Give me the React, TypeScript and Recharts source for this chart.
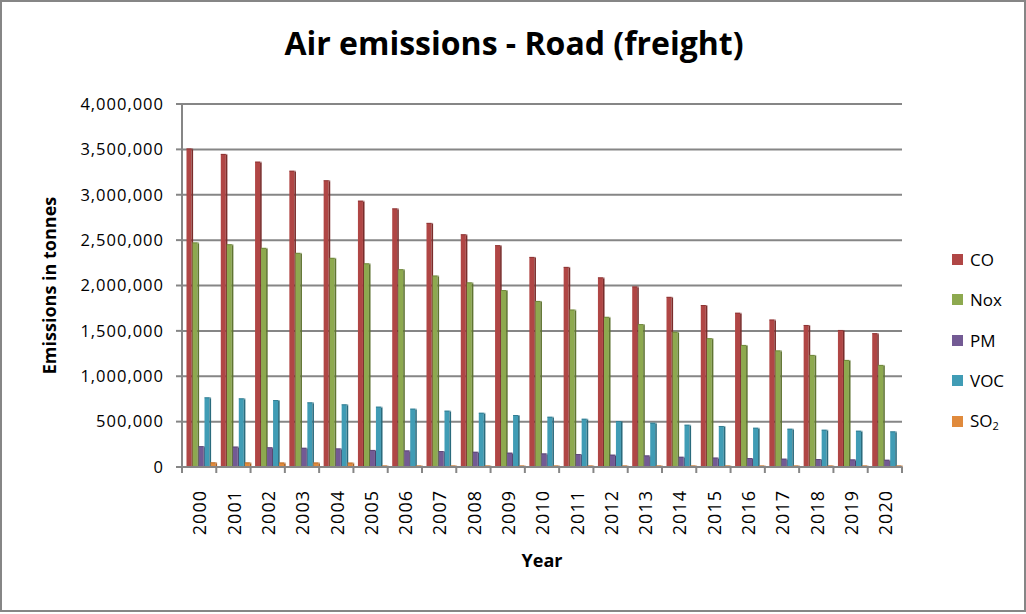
import { BarChart, Bar, XAxis, YAxis, CartesianGrid, Legend } from "recharts";

const years = ["2000", "2001", "2002", "2003", "2004", "2005", "2006", "2007", "2008", "2009", "2010",
    "2011", "2012", "2013", "2014", "2015", "2016", "2017", "2018", "2019", "2020"];

const co = [3510000, 3450000, 3365000, 3265000, 3160000, 2935000, 2850000, 2690000, 2565000, 2445000, 2315000,
    2205000, 2090000, 1990000, 1875000, 1785000, 1700000, 1625000, 1565000, 1510000, 1475000];
const nox = [2475000, 2455000, 2415000, 2360000, 2305000, 2245000, 2180000, 2110000, 2035000, 1950000, 1830000,
    1735000, 1655000, 1575000, 1490000, 1420000, 1345000, 1285000, 1235000, 1180000, 1125000];
const pm = [230000, 225000, 218000, 212000, 205000, 188000, 183000, 176000, 168000, 158000, 150000,
    143000, 136000, 128000, 113000, 104000, 99000, 92000, 88000, 84000, 80000];
const voc = [768000, 757000, 738000, 713000, 691000, 665000, 643000, 621000, 598000, 573000, 554000,
    532000, 507000, 488000, 466000, 452000, 433000, 422000, 411000, 400000, 393000];
const so2 = [52000, 51000, 50000, 50000, 49000, 4000, 4000, 4000, 4000, 3500, 3500,
    3000, 3000, 3000, 3000, 3000, 3000, 3000, 3000, 3000, 3000];

const yTicks = [0, 500000, 1000000, 1500000, 2000000, 2500000, 3000000, 3500000, 4000000];

const series = [
    { key: "co", name: "CO", fill: "#B04645", side: "#7A2C2B" },
    { key: "nox", name: "Nox", fill: "#8DA94F", side: "#5F7431" },
    { key: "pm", name: "PM", fill: "#735A94", side: "#4E3C66" },
    { key: "voc", name: "VOC", fill: "#409CB5", side: "#2A6B7D" },
    { key: "so2", name: "SO2", fill: "#E08A3C", side: "#A85F22" },
];

const data = years.map((year, i) => ({
    year,
    co: co[i],
    nox: nox[i],
    pm: pm[i],
    voc: voc[i],
    so2: so2[i],
}));

const FONT = "'Open Sans', sans-serif";
const AXIS_GRAY = "#868686";
const PLOT_BOTTOM = 467;
const BAND = 720 / years.length;

// bar with a darker right face, a cheap imitation of the 3D columns
function make3dBar(fill: string, side: string) {
    return (props: any) => {
        const { x, y, width, height } = props;
        if (width == null || height == null) return <g />;
        const h = Math.max(height, 1.5);
        const top = y + height - h;
        const x0 = x + 1.5;
        const face = Math.max(width - 1, 1);
        return (
            <g>
                <rect x={x0} y={top} width={face} height={h} fill={fill} />
                <rect x={x0 + face} y={top + 1} width={1.6} height={h - 1} fill={side} />
                <rect x={x0} y={top} width={face + 1.6} height={1} fill={side} opacity={0.6} />
            </g>
        );
    };
}

function YearTick(props: any) {
    const { x, payload, index } = props;
    const half = BAND / 2;
    return (
        <g>
            <line x1={x - half} x2={x - half} y1={PLOT_BOTTOM} y2={PLOT_BOTTOM + 6} stroke={AXIS_GRAY} strokeWidth={2} />
            {index === years.length - 1 && (
                <line x1={x + half} x2={x + half} y1={PLOT_BOTTOM} y2={PLOT_BOTTOM + 6} stroke={AXIS_GRAY} strokeWidth={2} />
            )}
            <text
                transform={`translate(${x + 1},${PLOT_BOTTOM + 23}) rotate(-90)`}
                textAnchor="end"
                dy="0.35em"
                fontSize={18}
                letterSpacing={1}
                fill="#000"
                fontFamily={FONT}
            >
                {payload.value}
            </text>
        </g>
    );
}

function LegendBox(props: any) {
    const order = series.map((s) => s.name);
    const items = [...(props.payload || [])].sort(
        (a: any, b: any) => order.indexOf(a.value) - order.indexOf(b.value)
    );
    // absolutely placed so the legend takes no room from the plot
    return (
        <div style={{ position: "absolute", left: 952, top: 239, fontFamily: FONT, fontSize: 17, whiteSpace: "nowrap" }}>
            {items.map((entry: any) => (
                <div key={entry.value} style={{ display: "flex", alignItems: "center", height: 40.5 }}>
                    <span style={{ width: 11, height: 11, background: entry.color, marginRight: 7 }} />
                    <span>
                        {entry.value === "SO2" ? (
                            <>SO<sub style={{ fontSize: 11, verticalAlign: "-3px" }}>2</sub></>
                        ) : (
                            entry.value
                        )}
                    </span>
                </div>
            ))}
        </div>
    );
}

export default function App() {
    return (
        <div
            style={{
                position: "fixed",
                left: 0,
                top: 0,
                width: 1022,
                height: 608,
                border: `2px solid ${AXIS_GRAY}`,
                background: "#fff",
                fontFamily: FONT,
            }}
        >
            <div
                style={{
                    position: "absolute",
                    left: 0,
                    width: 1024,
                    top: 19,
                    textAlign: "center",
                    fontSize: 32,
                    fontWeight: 700,
                    color: "#000",
                }}
            >
                Air emissions - Road (freight)
            </div>
            <div style={{ position: "absolute", left: -2, top: -2 }}>
                <BarChart
                    width={1026}
                    height={614}
                    data={data}
                    margin={{ top: 104, right: 124, left: 42, bottom: 67 }}
                    barCategoryGap={3}
                    barGap={0}
                >
                    <CartesianGrid vertical={false} stroke={AXIS_GRAY} strokeWidth={2} />
                    <XAxis
                        dataKey="year"
                        height={80}
                        interval={0}
                        axisLine={{ stroke: AXIS_GRAY, strokeWidth: 2 }}
                        tickLine={false}
                        tick={<YearTick />}
                        label={{
                            value: "Year",
                            position: "bottom",
                            offset: 7,
                            style: { fontFamily: FONT, fontSize: 18, fontWeight: 700, fill: "#000" },
                        }}
                    />
                    <YAxis
                        width={140}
                        domain={[0, 4000000]}
                        ticks={yTicks}
                        interval={0}
                        tickFormatter={(v: number) => v.toLocaleString("en-US")}
                        tick={{ fill: "#000", fontSize: 16.5, fontFamily: FONT, letterSpacing: 1 }}
                        tickSize={6}
                        tickMargin={12}
                        axisLine={{ stroke: AXIS_GRAY, strokeWidth: 2 }}
                        tickLine={{ stroke: AXIS_GRAY, strokeWidth: 2 }}
                        label={{
                            value: "Emissions in tonnes",
                            angle: -90,
                            position: "insideLeft",
                            offset: 8,
                            style: { textAnchor: "middle", fontFamily: FONT, fontSize: 18, fontWeight: 700, fill: "#000" },
                        }}
                    />
                    <Legend
                        content={<LegendBox />}
                        wrapperStyle={{ position: "absolute", left: 0, top: 0, width: 0, height: 0 }}
                    />
                    {series.map((s) => (
                        <Bar
                            key={s.key}
                            dataKey={s.key}
                            name={s.name}
                            fill={s.fill}
                            shape={make3dBar(s.fill, s.side)}
                            isAnimationActive={false}
                        />
                    ))}
                </BarChart>
            </div>
        </div>
    );
}
